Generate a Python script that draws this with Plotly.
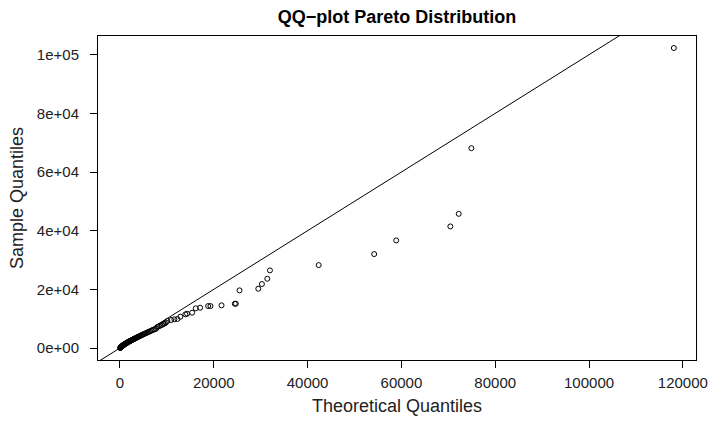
import plotly.graph_objects as go

# Theoretical quantiles (x) and sample quantiles (y)
theoretical = [
    40, 90, 140, 180, 230, 270, 320, 360, 410, 460, 510, 560, 610, 660, 720, 780,
    840, 900, 960, 1030, 1100, 1170, 1240, 1310, 1390, 1460, 1540, 1620, 1700,
    1790, 1880, 1970, 2060, 2160, 2260, 2370, 2480, 2590, 2710, 2830, 2960, 3090,
    3230, 3370, 3520, 3670, 3830, 4000, 4170, 4350, 4540, 4740, 4950, 5170, 5400,
    5640, 5890, 6150, 6420, 6700, 6990, 7330, 7700, 7970, 8300, 8610, 8950, 9250,
    9550, 9790, 10100, 10900, 11600, 12240, 12880, 13950, 14310, 15380, 16160,
    17090, 18800, 19290, 21650, 24490, 24700, 25490, 29490, 30260, 31410, 31970,
    42370, 54190, 58890, 70430, 72220, 74915, 118080,
]
sample = [
    0, 60, 150, 220, 300, 360, 440, 500, 580, 650, 720, 790, 860, 920, 990, 1060,
    1130, 1190, 1260, 1330, 1400, 1470, 1540, 1610, 1690, 1760, 1830, 1900, 1980,
    2060, 2140, 2220, 2300, 2390, 2480, 2570, 2660, 2750, 2850, 2950, 3060, 3170,
    3280, 3400, 3520, 3640, 3770, 3900, 4040, 4180, 4330, 4480, 4640, 4800, 4970,
    5150, 5330, 5520, 5720, 5920, 6150, 6350, 6580, 7150, 7380, 7660, 7900, 8170,
    8400, 8690, 9200, 9540, 9770, 9880, 10660, 11470, 11690, 12030, 13520, 13730,
    14300, 14300, 14540, 15090, 15100, 19650, 20200, 21800, 23600, 26460, 28270,
    32020, 36680, 41450, 45740, 68120, 102280,
]

x_tick_vals = [0, 20000, 40000, 60000, 80000, 100000, 120000]
x_tick_text = ["0", "20000", "40000", "60000", "80000", "100000", "120000"]
y_tick_vals = [0, 20000, 40000, 60000, 80000, 100000]
y_tick_text = ["0e+00", "2e+04", "4e+04", "6e+04", "8e+04", "1e+05"]

line_intercept = 0
line_slope = 1

title_text = "QQ\u2212plot Pareto Distribution"
x_title = "Theoretical Quantiles"
y_title = "Sample Quantiles"


def padded(vals, frac=0.04):
    lo, hi = min(vals), max(vals)
    d = (hi - lo) * frac
    return [lo - d, hi + d]


xr = padded(theoretical)
yr = padded(sample)

line_x = [xr[0] - (xr[1] - xr[0]), xr[1] + (xr[1] - xr[0])]
line_y = [line_intercept + line_slope * v for v in line_x]

FONT = "Liberation Sans, Arial, Helvetica, sans-serif"

fig = go.Figure()
fig.add_trace(go.Scatter(
    x=line_x, y=line_y, mode="lines",
    line=dict(color="black", width=1), hoverinfo="skip", showlegend=False,
))
fig.add_trace(go.Scatter(
    x=theoretical, y=sample, mode="markers",
    marker=dict(symbol="circle-open", size=5, color="black", line=dict(width=1, color="black")),
    showlegend=False,
))

axis_common = dict(
    showgrid=False, zeroline=False, showline=True, linecolor="black", linewidth=1,
    mirror=True, ticks="outside", ticklen=7, tickwidth=1, tickcolor="black",
    automargin=False,
    tickfont=dict(family=FONT, size=15, color="#222"),
)

fig.update_layout(
    template="none",
    width=714, height=423,
    margin=dict(l=98, r=18, t=36, b=63, autoexpand=False),
    paper_bgcolor="white", plot_bgcolor="white",
    title=dict(text=title_text, x=0.5, xref="paper", y=1 - 17 / 423, yref="container",
               xanchor="center", yanchor="middle",
               font=dict(family=FONT, size=18, color="black", weight="bold")),
    xaxis=dict(range=xr, tickvals=x_tick_vals, ticktext=x_tick_text, ticklabelstandoff=2,
               title=dict(text=x_title, font=dict(family=FONT, size=18, color="#222"), standoff=9),
               **axis_common),
    yaxis=dict(range=yr, tickvals=y_tick_vals, ticktext=y_tick_text, ticklabelstandoff=8,
               title=dict(text=y_title, font=dict(family=FONT, size=18, color="#222"), standoff=8),
               **axis_common),
)

fig.write_html(
    "out.html",
    config={"displayModeBar": False},
    post_script="document.body.style.margin='0';document.body.style.overflow='hidden';",
)
